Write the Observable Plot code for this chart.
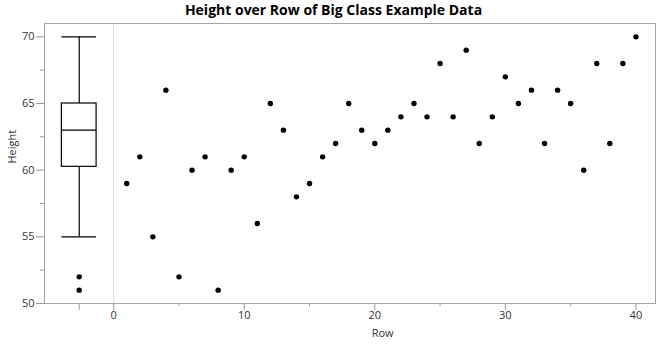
<!DOCTYPE html>
<html>
<head>
<meta charset="utf-8">
<script src="https://cdn.jsdelivr.net/npm/d3@7"></script>
<script src="https://cdn.jsdelivr.net/npm/@observablehq/plot@0.6"></script>
<style>
  body { margin: 0; background: #fff; }
  #title { width: 667px; height: 20px; text-align: center; font: bold 14px "Open Sans", sans-serif; line-height: 20px; color: #000; }
  svg { display: block; }
</style>
</head>
<body>
<div id="title">Height over Row of Big Class Example Data</div>
<div id="chart"></div>
<script>
const rows = d3.range(1, 41);
const heights = [59, 61, 55, 66, 52, 60, 61, 51, 60, 61, 56, 65, 63, 58, 59, 61, 62, 65, 63, 62,
                 63, 64, 65, 64, 68, 64, 69, 62, 64, 67, 65, 66, 62, 66, 65, 60, 68, 62, 68, 70];
const xMajorTicks = [0, 10, 20, 30, 40];
const xMinorTicks = [5, 15, 25, 35];
const yMajorTicks = [50, 55, 60, 65, 70];
const yMinorTicks = [52.5, 57.5, 62.5, 67.5];
const boxX = -2.64;
const boxHalf = 1.33;

const points = rows.map((r, i) => ({row: r, height: heights[i]}));

// JMP-style quantiles: position (n+1)p
const sorted = heights.slice().sort((a, b) => a - b);
function q(p) {
  const pos = (sorted.length + 1) * p;
  const lo = Math.floor(pos), frac = pos - lo;
  const a = sorted[Math.max(0, lo - 1)], b = sorted[Math.min(sorted.length - 1, lo)];
  return a + frac * (b - a);
}
const q1 = q(0.25), med = q(0.5), q3 = q(0.75), iqr = q3 - q1;
const inside = sorted.filter(v => v >= q1 - 1.5 * iqr && v <= q3 + 1.5 * iqr);
const wLo = d3.min(inside), wHi = d3.max(inside);
const outliers = sorted.filter(v => v < wLo || v > wHi).map(v => ({x: boxX, y: v}));
const box = [{x1: boxX - boxHalf, x2: boxX + boxHalf, y1: q1, y2: q3}];
const caps = [{y: wLo}, {y: wHi}, {y: med}];

const font = "Open Sans, sans-serif";
const chart = Plot.plot({
  width: 667,
  height: 326,
  marginTop: 3,
  marginBottom: 43,
  marginLeft: 44,
  marginRight: 12,
  style: {fontFamily: font, fontSize: "11px", color: "#333", background: "#fff"},
  x: {domain: [-5.3, 41.5], label: null},
  y: {domain: [50, 71], label: null},
  marks: [
    Plot.ruleX([0], {stroke: "#d4d4d4", strokeWidth: 1}),
    Plot.axisX({ticks: xMajorTicks, tickSize: 7, tickPadding: 1, stroke: "#999", fill: "#333", label: null}),
    Plot.axisX({ticks: xMinorTicks, tickSize: 3, tickFormat: () => "", stroke: "#999", label: null}),
    Plot.axisX({ticks: [boxX], tickSize: 7, tickFormat: () => "", stroke: "#999", label: null}),
    Plot.axisY({ticks: yMajorTicks, tickSize: 8, tickPadding: 2, stroke: "#999", fill: "#333", label: null}),
    Plot.axisY({ticks: yMinorTicks, tickSize: 4, tickFormat: () => "", stroke: "#999", label: null}),
    Plot.frame({stroke: "#a6a6a6"}),
    Plot.ruleX([boxX], {y1: wLo, y2: q1, stroke: "#000", strokeWidth: 1.2}),
    Plot.ruleX([boxX], {y1: q3, y2: wHi, stroke: "#000", strokeWidth: 1.2}),
    Plot.rect(box, {x1: "x1", x2: "x2", y1: "y1", y2: "y2", fill: "none", stroke: "#000", strokeWidth: 1.2}),
    Plot.ruleY(caps, {y: "y", x1: boxX - boxHalf, x2: boxX + boxHalf, stroke: "#000", strokeWidth: 1.2}),
    Plot.dot(outliers, {x: "x", y: "y", r: 2.7, fill: "#000"}),
    Plot.dot(points, {x: "row", y: "height", r: 2.7, fill: "#000"}),
    Plot.text(["Row"], {x: 20.6, frameAnchor: "bottom", dy: 33, fontSize: 11, fill: "#333"}),
    Plot.text(["Height"], {frameAnchor: "left", dx: -32, rotate: -90, fontSize: 11, fill: "#333"})
  ]
});
document.getElementById("chart").appendChild(chart);
</script>
</body>
</html>
